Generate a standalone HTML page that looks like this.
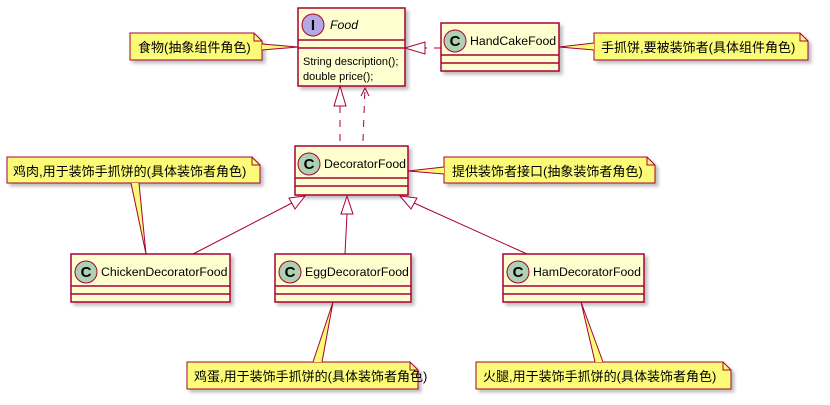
<!DOCTYPE html>
<html><head><meta charset="utf-8"><style>
html,body{margin:0;padding:0;background:#fff;}
svg text{font-family:"Liberation Sans","Noto Sans CJK SC",sans-serif;}
</style></head><body>
<svg width="830" height="400" viewBox="0 0 830 400" xmlns="http://www.w3.org/2000/svg">
<defs>
<filter id="sh" x="-10%" y="-10%" width="130%" height="140%"><feDropShadow dx="3" dy="3" stdDeviation="1.5" flood-color="#000" flood-opacity="0.25"/></filter>
</defs>
<g stroke="#A80036" fill="#FEFECE" stroke-width="1.5">
<rect x="298" y="8" width="107" height="78" filter="url(#sh)"/>
<line x1="298" y1="40" x2="405" y2="40"/><line x1="298" y1="48" x2="405" y2="48"/>
<rect x="441" y="23" width="118" height="48" filter="url(#sh)"/>
<line x1="441" y1="55" x2="559" y2="55"/><line x1="441" y1="63" x2="559" y2="63"/>
<rect x="295" y="146" width="113" height="49" filter="url(#sh)"/>
<line x1="295" y1="178" x2="408" y2="178"/><line x1="295" y1="186" x2="408" y2="186"/>
<rect x="71" y="254" width="159" height="48" filter="url(#sh)"/>
<line x1="71" y1="286" x2="230" y2="286"/><line x1="71" y1="294" x2="230" y2="294"/>
<rect x="275" y="254" width="136" height="48" filter="url(#sh)"/>
<line x1="275" y1="286" x2="411" y2="286"/><line x1="275" y1="294" x2="411" y2="294"/>
<rect x="503" y="254" width="141" height="48" filter="url(#sh)"/>
<line x1="503" y1="286" x2="644" y2="286"/><line x1="503" y1="294" x2="644" y2="294"/>
</g>
<g stroke="#A80036" stroke-width="1">
<circle cx="313" cy="25" r="11" fill="#B4A7E5"/>
<circle cx="455" cy="41" r="11" fill="#ADD1B2"/>
<circle cx="309" cy="164" r="11" fill="#ADD1B2"/>
<circle cx="86" cy="272" r="11" fill="#ADD1B2"/>
<circle cx="290" cy="272" r="11" fill="#ADD1B2"/>
<circle cx="518" cy="272" r="11" fill="#ADD1B2"/>
</g>
<g font-weight="bold" font-size="15" text-anchor="middle" fill="#000">
<text x="313" y="30">I</text><text x="455" y="46">C</text><text x="309" y="169">C</text>
<text x="86" y="277">C</text><text x="290" y="277">C</text><text x="518" y="277">C</text>
</g>
<g font-size="12.3" fill="#000">
<text x="330" y="29" font-style="italic">Food</text>
<text x="303" y="65" font-size="11">String description();</text>
<text x="303" y="80" font-size="11">double price();</text>
<text x="470" y="45">HandCakeFood</text>
<text x="324" y="168">DecoratorFood</text>
<text x="101" y="276">ChickenDecoratorFood</text>
<text x="305" y="276">EggDecoratorFood</text>
<text x="533" y="276">HamDecoratorFood</text>
</g>
<g stroke="#A80036" stroke-width="1" fill="none">
<line x1="340" y1="141" x2="340" y2="106" stroke-dasharray="7,7"/>
<polygon points="340,86 334,106 346,106" fill="#fff"/>
<line x1="363" y1="141" x2="365" y2="88" stroke-dasharray="7,7"/>
<polyline points="361,96 365,88 369,96"/>
<line x1="441" y1="48" x2="425" y2="48" stroke-dasharray="7,7"/>
<polygon points="405,48 425,42 425,54" fill="#fff"/>
<line x1="193" y1="254" x2="292" y2="203"/>
<polygon points="305,196 289,198 295,209" fill="#fff"/>
<line x1="345" y1="254" x2="347" y2="214"/>
<polygon points="347,196 341,214 353,214" fill="#fff"/>
<line x1="527" y1="254" x2="414" y2="203"/>
<polygon points="400,196 411,209 417,198" fill="#fff"/>
</g>
<g stroke="#A80036" fill="#FBFB77" stroke-width="1">
<path d="M130,33 H254 L262,41 V60 H130 Z" filter="url(#sh)"/>
<path d="M262,44 L298,47 L262,50" />
<path d="M594,33 H800 L808,41 V60 H594 Z" filter="url(#sh)"/>
<path d="M594,43 L559,47 L594,50"/>
<path d="M444,157 H647 L655,165 V183 H444 Z" filter="url(#sh)"/>
<path d="M444,167 L408,171 L444,174"/>
<path d="M7,157 H252 L260,165 V183 H7 Z" filter="url(#sh)"/>
<path d="M131,183 L146,254 L139,183"/>
<path d="M187,362 H410 L418,370 V389 H187 Z" filter="url(#sh)"/>
<path d="M313,362 L333,302 L322,362"/>
<path d="M476,362 H723 L731,370 V389 H476 Z" filter="url(#sh)"/>
<path d="M595,362 L581,302 L603,362"/>
</g>
<g fill="none" stroke="#A80036" stroke-width="1">
<path d="M254,33 V41 H262"/><path d="M800,33 V41 H808"/><path d="M647,157 V165 H655"/>
<path d="M252,157 V165 H260"/><path d="M410,362 V370 H418"/><path d="M723,362 V370 H731"/>
</g>
<g font-size="13" fill="#000">
<text x="138" y="52">食物(抽象组件角色)</text>
<text x="601" y="52">手抓饼,要被装饰者(具体组件角色)</text>
<text x="452" y="176">提供装饰者接口(抽象装饰者角色)</text>
<text x="13" y="176">鸡肉,用于装饰手抓饼的(具体装饰者角色)</text>
<text x="194" y="381">鸡蛋,用于装饰手抓饼的(具体装饰者角色)</text>
<text x="483" y="381">火腿,用于装饰手抓饼的(具体装饰者角色)</text>
</g>
</svg>
</body></html>
